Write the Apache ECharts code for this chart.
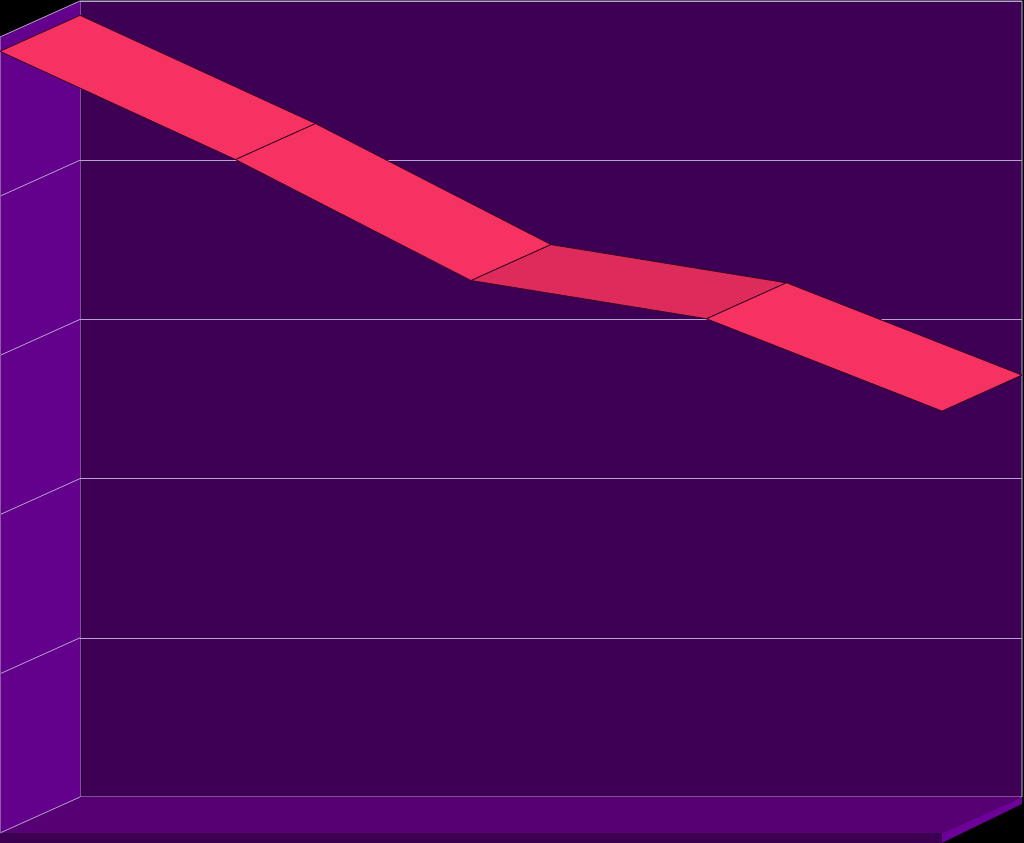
<!DOCTYPE html>
<html>
<head>
<meta charset="utf-8">
<script src="https://cdn.jsdelivr.net/npm/echarts@6/dist/echarts.min.js"></script>
<style>
html,body{margin:0;padding:0;background:#000;}
#chart{width:1024px;height:843px;}
</style>
</head>
<body>
<div id="chart"></div>
<script>
// Data
var categories = ['1', '2', '3', '4', '5'];
var values = [49.1, 42.3, 34.7, 32.3, 26.5];
var yTicks = [0, 10, 20, 30, 40, 50];

// 3D depth offset (front face relative to back wall)
var DX = -80, DY = 36;
var GRID_COLOR = '#b7a3cf';

var chart = echarts.init(document.getElementById('chart'), null, {renderer: 'canvas'});

var segments = [];
for (var i = 0; i < values.length - 1; i++) {
  segments.push([i, values[i], values[i + 1]]);
}

function shift(p) { return [p[0] + DX, p[1] + DY]; }

var option = {
  backgroundColor: '#000000',
  animation: false,
  grid: {
    left: 80, top: 1, width: 942, height: 796,
    show: true, backgroundColor: '#3d0055',
    borderColor: GRID_COLOR, borderWidth: 1
  },
  xAxis: {
    type: 'category', data: categories, boundaryGap: false,
    axisLine: {show: false}, axisTick: {show: false}, axisLabel: {show: false},
    splitLine: {show: false}
  },
  yAxis: {
    type: 'value', min: yTicks[0], max: yTicks[yTicks.length - 1], interval: 10,
    axisLine: {show: false}, axisTick: {show: false}, axisLabel: {show: false},
    splitLine: {show: true, lineStyle: {color: GRID_COLOR, width: 1}}
  },
  series: [
    {
      type: 'custom',
      z: 1,
      silent: true,
      data: [[0]],
      renderItem: function (params, api) {
        var last = categories.length - 1;
        var bTop = api.coord([0, yTicks[yTicks.length - 1]]);
        var bBot = api.coord([0, yTicks[0]]);
        var bRight = api.coord([last, yTicks[0]]);
        var fTop = shift(bTop), fBot = shift(bBot), fRight = shift(bRight);
        var children = [];
        // left wall
        children.push({type: 'polygon', shape: {points: [bTop, bBot, fBot, fTop]},
          style: {fill: '#63008c'}});
        // floor top
        children.push({type: 'polygon', shape: {points: [bBot, bRight, fRight, fBot]},
          style: {fill: '#570074'}});
        // floor front thickness
        children.push({type: 'polygon', shape: {points: [fBot, fRight, [fRight[0], fRight[1] + 10], [fBot[0], fBot[1] + 10]]},
          style: {fill: '#3b0050'}});
        // floor right side
        children.push({type: 'polygon', shape: {points: [fRight, bRight, [bRight[0], bRight[1] + 7], [fRight[0], fRight[1] + 10]]},
          style: {fill: '#6c0098'}});
        // gridline extensions on left wall
        yTicks.forEach(function (t) {
          var b = api.coord([0, t]);
          var f = shift(b);
          children.push({type: 'line', shape: {x1: b[0], y1: b[1], x2: f[0], y2: f[1]},
            style: {stroke: GRID_COLOR, lineWidth: 1}});
        });
        // faint left edge
        children.push({type: 'line', shape: {x1: fTop[0] + 0.5, y1: fTop[1], x2: fBot[0] + 0.5, y2: fBot[1]},
          style: {stroke: '#8a5aa8', lineWidth: 1}});
        return {type: 'group', children: children};
      }
    },
    {
      type: 'custom',
      z: 5,
      silent: true,
      data: segments,
      renderItem: function (params, api) {
        var i = api.value(0);
        var b1 = api.coord([i, api.value(1)]);
        var b2 = api.coord([i + 1, api.value(2)]);
        var f1 = shift(b1), f2 = shift(b2);
        var slope = Math.abs(b2[1] - b1[1]) / Math.abs(b2[0] - b1[0]);
        var fill = slope < 0.25 ? '#dd2b5b' : '#f53262';
        return {
          type: 'polygon',
          shape: {points: [f1, f2, b2, b1]},
          style: {fill: fill, stroke: '#3a0022', lineWidth: 1}
        };
      }
    }
  ]
};
chart.setOption(option);
</script>
</body>
</html>
